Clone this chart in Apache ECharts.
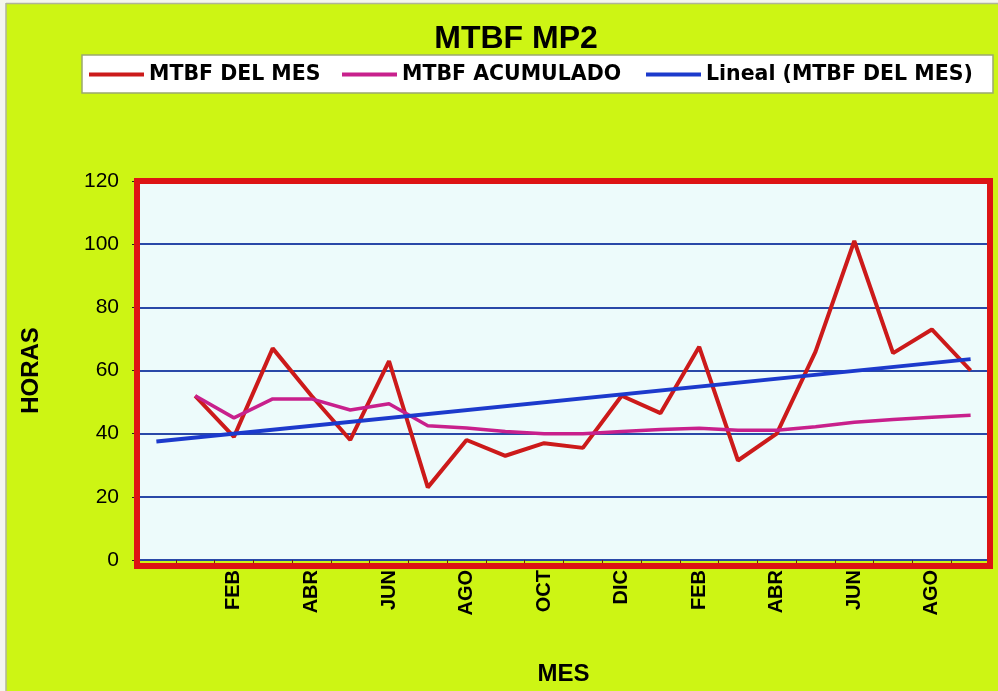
<!DOCTYPE html>
<html>
<head>
<meta charset="utf-8">
<script src="https://cdn.jsdelivr.net/npm/echarts@6/dist/echarts.min.js"></script>
<style>
html,body{margin:0;padding:0;background:#f4f6ee;}
#chart{width:998px;height:691px;}
</style>
</head>
<body>
<div id="chart"></div>
<script>
// ---- data ----
var categories = ['', 'ENE', 'FEB', 'MAR', 'ABR', 'MAY', 'JUN', 'JUL', 'AGO', 'SEP', 'OCT', 'NOV', 'DIC',
                  'ENE', 'FEB', 'MAR', 'ABR', 'MAY', 'JUN', 'JUL', 'AGO', 'SEP'];
var mtbfMes = [null, 52, 39, 67, 52, 38, 63, 23, 38, 33, 37, 35.5, 52, 46.5, 67.5, 31.5, 40, 66, 101, 65.5, 73, 60];
var mtbfAcum = [null, 52, 45, 51, 51, 47.5, 49.5, 42.5, 41.8, 40.7, 40, 40, 40.7, 41.3, 41.7, 41.1, 41.1, 42.2, 43.6, 44.5, 45.2, 45.8];
var trendIdx = [0, 21];
var trendVal = [37.5, 63.6];
var yTicks = [0, 20, 40, 60, 80, 100, 120];
var seriesNames = ['MTBF DEL MES', 'MTBF ACUMULADO', 'Lineal (MTBF DEL MES)'];

// ---- layout ----
var GL = 137, GR = 990, GT = 181, GB = 566;
var W = 998, H = 691;
var C_RED = '#cc1a1a', C_MAG = '#c8208c', C_BLUE = '#1c3acc';

var chart = echarts.init(document.getElementById('chart'), null, {renderer: 'canvas'});
var font = 'Liberation Sans, Arial, sans-serif';

function legendFor(name, left) {
  return {
    data: [name], left: left, top: 64, padding: 0,
    icon: 'rect', itemWidth: 55, itemHeight: 4, itemGap: 0,
    selectedMode: false,
    textStyle: {fontFamily: 'DejaVu Sans, sans-serif', fontSize: 20.5, fontWeight: 'bold', color: '#000'}
  };
}

var option = {
  backgroundColor: '#cdf514',
  animation: false,
  title: {
    text: 'MTBF MP2', left: 511, top: 18, textAlign: 'center',
    textStyle: {fontFamily: font, fontSize: 32, fontWeight: 'bold', color: '#000'}
  },
  legend: [
    legendFor(seriesNames[0], 89),
    legendFor(seriesNames[1], 342),
    legendFor(seriesNames[2], 646)
  ],
  grid: {
    left: GL, right: W - GR, top: GT, bottom: H - GB,
    show: true, backgroundColor: '#edfbfb', borderWidth: 0
  },
  xAxis: {
    type: 'category', data: categories, boundaryGap: true,
    name: 'MES', nameLocation: 'middle', nameGap: 102,
    nameTextStyle: {fontFamily: font, fontSize: 24, fontWeight: 'bold', color: '#000'},
    axisLine: {show: false},
    axisTick: {show: true, interval: 0, length: 4, lineStyle: {color: '#6a2a10', width: 1}},
    axisLabel: {interval: 1, rotate: 90, margin: 10, fontFamily: font, fontSize: 20, fontWeight: 'bold', color: '#000'},
    splitLine: {show: false}
  },
  yAxis: {
    type: 'value', min: yTicks[0], max: yTicks[yTicks.length - 1], interval: yTicks[1] - yTicks[0],
    name: 'HORAS', nameLocation: 'middle', nameGap: 94, nameRotate: 90,
    nameTextStyle: {fontFamily: font, fontSize: 24, fontWeight: 'bold', color: '#000'},
    axisLine: {show: false},
    axisTick: {show: true, length: 5, lineStyle: {color: '#222', width: 1}},
    axisLabel: {margin: 18, fontFamily: font, fontSize: 21, color: '#000'},
    splitLine: {show: true, lineStyle: {color: '#2a48a8', width: 2}}
  },
  graphic: [
    {type: 'rect', z: -1, shape: {x: 0, y: 0, width: 6, height: H}, style: {fill: '#f4f6ee'}},
    {type: 'rect', z: -1, shape: {x: 0, y: 0, width: W, height: 3}, style: {fill: '#f4f6ee'}},
    {type: 'line', z: -1, shape: {x1: 6, y1: 3, x2: 6, y2: H}, style: {stroke: '#b0b49a', lineWidth: 1.5}},
    {type: 'line', z: -1, shape: {x1: 6, y1: 3.5, x2: W, y2: 3.5}, style: {stroke: '#b0b49a', lineWidth: 1.5}},
    {type: 'rect', z: 0, shape: {x: 82, y: 55, width: 911, height: 38},
     style: {fill: '#ffffff', stroke: '#9aa870', lineWidth: 1.5}},
    {type: 'rect', z: 100, shape: {x: GL, y: GT, width: GR - GL, height: GB - GT},
     style: {fill: null, stroke: '#dd1414', lineWidth: 6}}
  ],
  series: [
    {
      name: seriesNames[0], type: 'line', data: mtbfMes, symbol: 'none', connectNulls: false,
      itemStyle: {color: C_RED}, lineStyle: {color: C_RED, width: 4}
    },
    {
      name: seriesNames[1], type: 'line', data: mtbfAcum, symbol: 'none',
      itemStyle: {color: C_MAG}, lineStyle: {color: C_MAG, width: 3.5}
    },
    {
      name: seriesNames[2], type: 'line',
      data: trendIdx.map(function (ix, k) { return [ix, trendVal[k]]; }),
      symbol: 'none',
      itemStyle: {color: C_BLUE}, lineStyle: {color: C_BLUE, width: 4}
    }
  ]
};
chart.setOption(option);
</script>
</body>
</html>
